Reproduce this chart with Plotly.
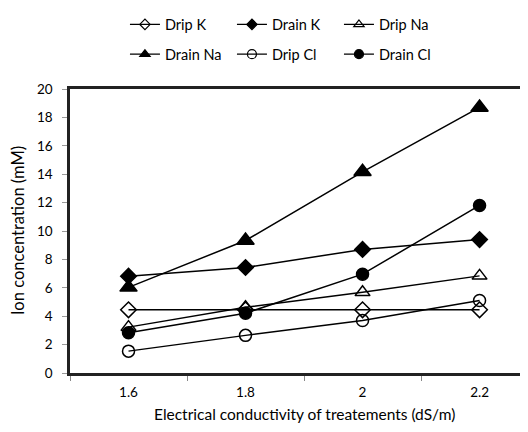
import plotly.graph_objects as go

categories = ["1.6", "1.8", "2", "2.2"]
drip_k = [4.45, 4.45, 4.45, 4.45]
drain_k = [6.82, 7.43, 8.7, 9.4]
drip_na = [3.23, 4.63, 5.68, 6.84]
drain_na = [6.03, 9.33, 14.17, 18.7]
drip_cl = [1.54, 2.65, 3.7, 5.1]
drain_cl = [2.84, 4.21, 6.96, 11.8]

series = [
    ("Drip K", drip_k, "diamond-open", 12, 8, "legend"),
    ("Drain K", drain_k, "diamond", 12, 8, "legend"),
    ("Drip Na", drip_na, "triangle-up-open", 13, 9, "legend"),
    ("Drain Na", drain_na, "triangle-up", 15, 9, "legend2"),
    ("Drip Cl", drip_cl, "circle-open", 12, 9, "legend2"),
    ("Drain Cl", drain_cl, "circle", 12, 9, "legend2"),
]

FONT = "Lato"
fig = go.Figure()
for name, vals, sym, size, lsize, lg in series:
    fig.add_trace(go.Scatter(
        x=categories, y=vals, name=name, mode="lines+markers",
        line=dict(color="black", width=1.5),
        marker=dict(symbol=sym, size=size, color="black",
                    line=dict(color="black", width=1.5)),
        showlegend=False,
    ))
    # legend-only entry with smaller symbol
    fig.add_trace(go.Scatter(
        x=[None], y=[None], name=name, mode="lines+markers",
        line=dict(color="black", width=1.3),
        marker=dict(symbol=sym, size=lsize, color="black",
                    line=dict(color="black", width=1.2)),
        legend=lg,
    ))

legend_common = dict(orientation="h", xanchor="left", yanchor="middle",
                     font=dict(family=FONT, size=14.5, color="black"),
                     entrywidth=62, bgcolor="rgba(0,0,0,0)",
                     traceorder="normal")
T, B, L = 79, 51, 62
PH = 416 - T - B
fig.update_layout(
    width=520, height=416,
    margin=dict(l=L, r=0, t=T, b=B),
    paper_bgcolor="white", plot_bgcolor="white",
    font=dict(family=FONT, size=13.5, color="black"),
    legend=dict(x=0.12, y=1 + (T - 14) / PH, **legend_common),
    legend2=dict(x=0.12, y=1 + (T - 44) / PH, **legend_common),
    xaxis=dict(type="category", range=[-0.5, 3.414], tickson="boundaries",
               ticks="outside", ticklen=5, tickcolor="#888", ticklabelstandoff=5,
               showline=True, linecolor="#222", linewidth=2.5, mirror=True,
               showgrid=False, tickfont=dict(family=FONT, size=13.5)),
    yaxis=dict(range=[0, 20], dtick=2, ticks="outside", ticklen=5, tickcolor="#999",
               ticklabelstandoff=7,
               showline=True, linecolor="#222", linewidth=2.5,
               showgrid=False, zeroline=False, tickfont=dict(family=FONT, size=13.5)),
    annotations=[
        dict(text="Electrical conductivity of treatements (dS/m)", xref="paper", yref="paper",
             x=(304 - 70) / 458, y=-(414 - 373) / PH, xanchor="center", yanchor="middle",
             showarrow=False, font=dict(family=FONT, size=15.5)),
        dict(text="Ion concentration (mM)", xref="paper", yref="paper", textangle=-90,
             x=(18 - 70) / 458, y=(373 - 230) / PH, xanchor="center", yanchor="middle",
             showarrow=False, font=dict(family=FONT, size=16.5)),
    ],
)
fig.write_html("out.html")
